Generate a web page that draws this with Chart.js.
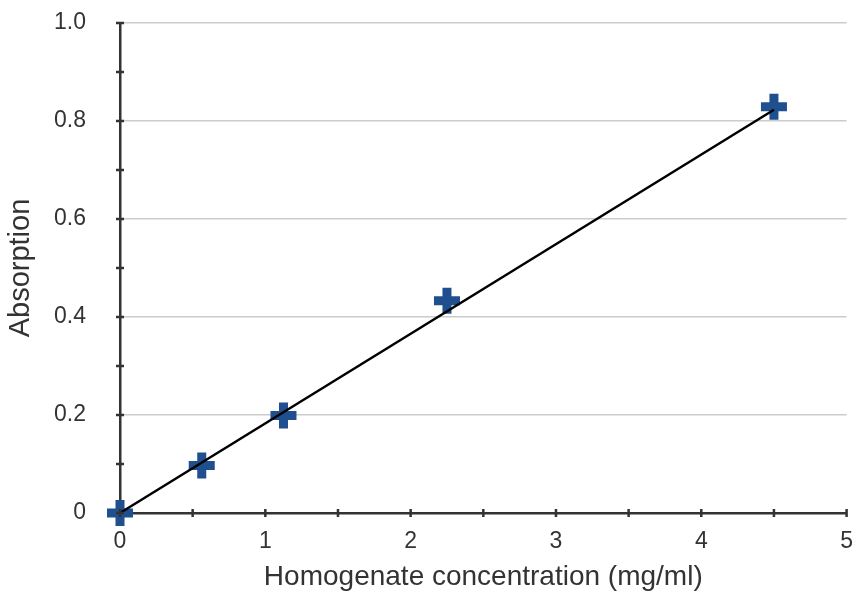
<!DOCTYPE html>
<html>
<head>
<meta charset="utf-8">
<script src="https://cdn.jsdelivr.net/npm/chart.js@4.4.1/dist/chart.umd.min.js"></script>
<style>
  body { margin: 0; background: #fff; }
  canvas { display: block; }
</style>
</head>
<body>
<canvas id="absChart" width="855" height="592"></canvas>
<script>
// Données
const concentration = [0, 0.5625, 1.125, 2.25, 4.5];
const absorption = [0, 0.097, 0.199, 0.433, 0.829];
// Droite de régression
const fitX = [0, 4.5];
const fitY = [0, 0.823];

const points = concentration.map((x, i) => ({ x: x, y: absorption[i] }));
const fitLine = fitX.map((x, i) => ({ x: x, y: fitY[i] }));

const axisColor = '#333333';
const textColor = '#333333';

// Petites graduations qui traversent l'axe
const crossTicks = {
    id: 'crossTicks',
    afterDatasetsDraw(chart) {
        const ctx = chart.ctx;
        const xs = chart.scales.x, ys = chart.scales.y;
        ctx.save();
        ctx.strokeStyle = axisColor;
        ctx.lineWidth = 2.5;
        ctx.beginPath();
        xs.ticks.forEach(t => {
            const px = xs.getPixelForValue(t.value);
            ctx.moveTo(px, ys.bottom - 4);
            ctx.lineTo(px, ys.bottom + 4);
        });
        ys.ticks.forEach(t => {
            const py = ys.getPixelForValue(t.value);
            ctx.moveTo(xs.left - 4, py);
            ctx.lineTo(xs.left + 4, py);
        });
        ctx.stroke();
        ctx.restore();
    }
};

const isMajorY = v => Math.round(v * 10) % 2 === 0;

const ctx = document.getElementById('absChart').getContext('2d');
const absChart = new Chart(ctx, {
    type: 'scatter',
    data: {
        datasets: [{
            label: 'Mesures',
            data: points,
            pointStyle: 'cross',
            pointRadius: 13,
            pointHoverRadius: 13,
            borderWidth: 9,
            pointBorderWidth: 9,
            borderColor: '#1f4f8e',
            backgroundColor: '#1f4f8e',
            clip: false,
            order: 1
        }, {
            label: 'Régression',
            data: fitLine,
            showLine: true,
            pointRadius: 0,
            borderColor: '#000000',
            borderWidth: 2.5,
            clip: false,
            order: 0
        }]
    },
    options: {
        responsive: false,
        animation: false,
        layout: { autoPadding: false, padding: { left: 0, right: 7, top: 23, bottom: 0 } },
        plugins: {
            legend: { display: false },
            tooltip: { enabled: false }
        },
        scales: {
            x: {
                type: 'linear',
                min: 0,
                max: 5,
                afterFit(scale) { scale.height = 79; },
                ticks: {
                    stepSize: 0.5,
                    autoSkip: false,
                    maxRotation: 0,
                    padding: 2,
                    color: textColor,
                    font: { family: 'Liberation Sans, Arial, sans-serif', size: 23 },
                    callback: v => Number.isInteger(v) ? String(v) : ''
                },
                grid: { display: true, color: 'transparent', tickColor: 'transparent', tickLength: 13 },
                border: { color: axisColor, width: 2.5 },
                title: {
                    display: true,
                    text: 'Homogenate concentration (mg/ml)',
                    color: textColor,
                    padding: { top: 0, bottom: 1 },
                    font: { family: 'Liberation Sans, Arial, sans-serif', size: 28, lineHeight: 1 }
                }
            },
            y: {
                type: 'linear',
                min: 0,
                max: 1,
                afterFit(scale) { scale.width = 120; },
                ticks: {
                    stepSize: 0.1,
                    autoSkip: false,
                    padding: 2,
                    color: textColor,
                    font: { family: 'Liberation Sans, Arial, sans-serif', size: 23 },
                    callback: v => {
                        if (!isMajorY(v)) return '';
                        if (v === 0) return '0';
                        return v.toFixed(1);
                    }
                },
                grid: {
                    color: c => (c.tick && isMajorY(c.tick.value)) ? '#cccccc' : 'transparent',
                    tickColor: 'transparent',
                    lineWidth: 1.5,
                    tickLength: 32
                },
                border: { color: axisColor, width: 2.5 },
                title: {
                    display: true,
                    text: 'Absorption',
                    color: textColor,
                    padding: { top: 6, bottom: 0 },
                    font: { family: 'Liberation Sans, Arial, sans-serif', size: 29, lineHeight: 1 }
                }
            }
        }
    },
    plugins: [crossTicks]
});
</script>
</body>
</html>
